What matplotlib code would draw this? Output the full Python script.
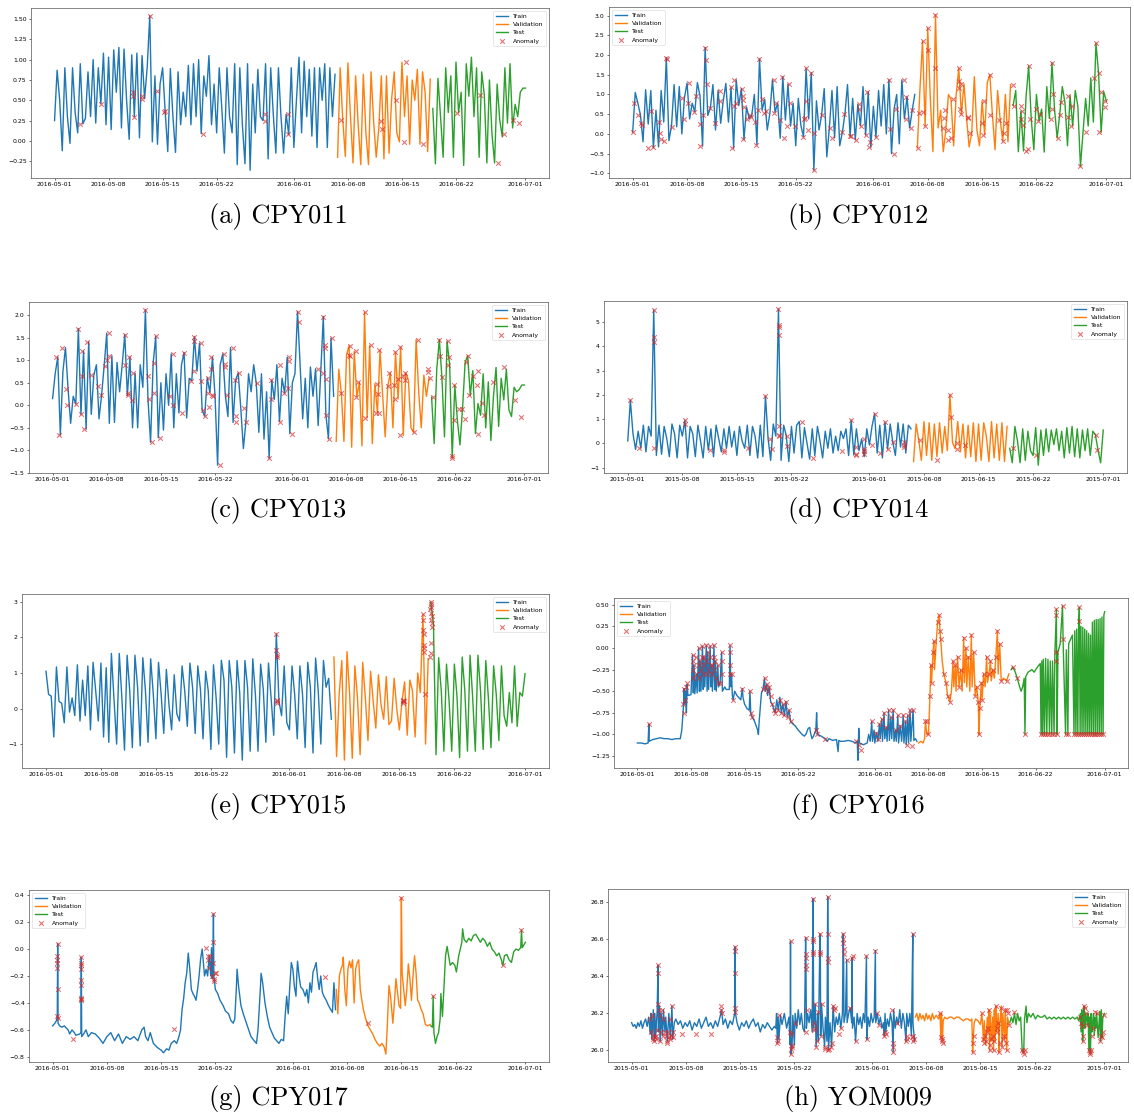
import numpy as np
import pandas as pd
import matplotlib
matplotlib.use("Agg")
import matplotlib.pyplot as plt
import matplotlib.dates as mdates

# CONFIG
SPLIT = (36.6, 48.8)      # train | validation | test boundaries (days from start)
STEP = 1 / 3              # uniform series below: one sample every 8 hours

# ---------------- CPY011 (uniform, 3 samples/day) ----------------
cpy011 = [
    0.25, 0.87, 0.5,  -0.12, 0.9, 0.3,  -0.03, 0.9, 0.35,  0.1, 0.95, 0.21,  0.28, 0.85, 0.3,
    1.0, 0.22, 0.9,  0.46, 1.08, 0.2,  1.03, 0.14, 1.12,  0.6, 1.15, 0.16,  1.13, 0.5, 0.02,
    1.06, 0.3, 1.08,  0.04, 1.05, 0.52,  0.9, 1.54, -0.01,  0.8, -0.04, 0.7,  0.9, 0.36, -0.13,
    0.89, 0.3, -0.14,  0.85, 0.2, 0.6,  0.3, 0.93, 0.2,  0.95, 0.3, 1.0,  0.09, 0.8, 0.55,
    1.05, 0.2, 0.7,  0.1, 0.9, 0.4,  -0.15, 0.9, 0.3,  0.1, 0.95, -0.29,  0.9, 0.2, -0.28,
    0.95, -0.36, 0.7,  0.1, 0.88, 0.3,  0.25, 0.95, -0.22,  0.9, 0.33, -0.15,  0.9, 0.3, -0.15,
    0.33, 0.08, 0.9,  -0.08, 0.5, 1.03,  0.1, 0.98, 0.3,  0.88, 0.06, 0.9,  -0.08, 0.9, 0.5,
    0.95, -0.08, 0.9,  0.3, 0.82, -0.2,  0.9, 0.26, -0.19,  0.96, 0.3, -0.27,  0.8, 0.2, -0.29,
    0.82, 0.1, -0.29,  0.85, 0.24, -0.2,  0.15, 0.8, -0.22,  0.8, -0.15, 0.52,  0.85, 0.1, -0.01,
    0.97, 0.3, 0.8,  -0.04, 0.75, 0.5,  0.88, -0.04, 0.85,  0.6, -0.13, 0.76,  0.4, -0.28, 0.77,
    0.3, -0.2, 0.9,  0.35, 0.8, -0.2,  0.97, 0.35, 0.6,  -0.3, 0.95, 0.55,  1.03, 0.3, 0.9,
    -0.2, 0.85, 0.57,  -0.27, 0.75, 0.08,  -0.27, 0.7, 0.26,  0.05, 0.9, 0.22,  0.95, 0.16, 0.45,
    0.3, 0.6, 0.65,  0.65,
]
cpy011_anom = [(3.28, 0.21), (6.05, 0.46), (10.12, 0.6), (10.21, 0.55), (10.3, 0.3), (11.28, 0.52),
               (11.37, 0.55), (12.33, 1.54), (13.31, 0.61), (14.23, 0.36), (14.32, 0.37), (19.27, 0.09),
               (27.26, 0.33), (27.26, 0.25), (30.18, 0.33), (30.18, 0.08), (37.1, 0.26), (42.33, 0.24),
               (42.42, 0.15), (44.27, 0.51), (45.24, -0.01), (45.52, 0.97), (47.74, -0.04), (52.13, 0.35),
               (55.13, 0.57), (57.44, -0.27), (58.27, 0.08), (59.38, 0.26), (60.21, 0.22)]

# ---------------- CPY012 ----------------
cpy012 = [
    0.05, 1.05, 0.78,  0.48, -0.2, 1.12,  0.25, 1.1, -0.35,  0.6, -0.33, 1.1,  0.3, 1.93, -0.17,
    0.2, 1.25, 0.18,  1.2, 0.0, 0.92,  1.29, 0.38, 0.78,  0.56, 1.3, 0.97,  -0.31, 2.19, 0.47,
    0.65, 1.25, 0.1,  1.1, 0.27, 0.84,  1.28, 0.3, 1.18,  -0.36, 1.37, 0.72,  1.15, -0.14, 0.68,
    0.39, 0.47, 1.0,  -0.27, 1.9, 0.6,  0.88, 0.1, 0.52,  1.37, 0.55, 0.78,  -0.11, 1.45, 0.35,
    1.26, 0.2, 0.78,  -0.3, 0.9, 0.21,  -0.07, 1.66, 0.38,  1.55, -0.92, 0.84,  0.1, 0.48, 1.15,
    -0.58, 0.16, 1.1,  -0.1, 1.2, -0.3,  0.04, 0.5, 1.25,  -0.06, 0.9, -0.15,  0.75, 0.21, 1.2,
    -0.03, 1.07, -0.34,  0.7, -0.08, 1.1,  0.2, 1.25, 0.0,  1.37, -0.5, 0.63,  1.0, -0.25, 1.37,
    0.38, 0.94, 0.15,  0.6, 1.0, -0.35,  1.15, 2.35, 0.2,  2.68, 0.9, -0.45,  3.02, 0.15, 0.6,
    -0.45, 0.1, 1.0,  0.88, -0.3, 1.0,  1.66, 0.5, 1.27,  0.4, -0.33, 0.03,  1.45, 0.1, -0.3,
    0.84, -0.02, 1.3,  1.5, 0.47, -0.4,  1.1, 0.35, -0.18,  1.0, -0.2, 1.25,  0.72, 1.1, -0.45,
    0.58, -0.43, 0.95,  1.72, 0.37, -0.4,  1.0, 0.33, 0.63,  -0.46, 1.2, 0.39,  1.8, 0.62, -0.1,
    0.49, 1.2, 0.8,  -0.3, 0.97, 0.2,  1.1, 0.7, -0.82,  0.04, 0.9, 0.2,  1.42, 0.3, 2.3,
    1.55, 0.04, 1.07,  0.83,
]
cpy012_anom = [
    (0.0, 0.05), (0.23, 0.78), (0.69, 0.48), (1.06, 0.28), (1.15, 0.22), (1.94, -0.35), (2.35, 0.59),
    (2.63, -0.33), (3.37, 0.3), (3.46, 0.03), (3.6, -0.13), (4.01, -0.17), (4.33, 1.93), (4.38, 1.9),
    (5.03, 0.18), (6.37, 0.92), (6.55, 0.38), (7.15, 0.78), (7.29, 1.29), (7.89, 0.56), (8.12, 0.97),
    (8.68, 0.25), (8.72, -0.31), (9.0, 0.47), (9.33, 2.19), (9.46, 1.87), (9.51, 1.26), (9.92, 0.65),
    (10.61, 0.27), (11.21, 0.84), (11.26, 1.1), (12.6, 1.18), (12.78, -0.36), (13.01, 1.37),
    (13.11, 0.72), (13.29, 0.78), (14.07, 1.15), (14.17, 0.97), (14.21, 0.86), (14.21, -0.14),
    (14.31, 0.68), (14.67, 0.39), (15.09, 0.47), (15.18, 0.42), (15.78, 0.3), (15.87, -0.27),
    (16.15, 0.6), (16.33, 1.9), (16.61, 0.88), (16.94, 0.52), (17.17, 0.58), (18.14, 1.37),
    (18.23, 0.52), (18.46, 0.78), (19.01, 0.35), (19.2, 1.45), (19.47, -0.11), (19.84, 0.2),
    (20.07, 1.26), (20.3, 0.78), (20.9, 0.21), (21.92, -0.07), (22.06, 0.38), (22.15, 0.4),
    (22.33, 1.66), (22.38, 0.84), (22.61, 0.1), (23.0, 1.55), (23.3, 0.03), (23.33, -0.92),
    (24.41, 0.48), (25.38, 0.16), (25.66, -0.1), (27.0, 0.04), (27.18, 0.5), (27.97, -0.05),
    (28.06, -0.06), (28.7, -0.15), (29.17, 0.63), (29.21, 0.75), (29.4, 0.21), (30.04, -0.03),
    (30.18, 1.07), (30.46, -0.34), (30.6, -0.2), (31.38, -0.08), (32.95, 1.37), (33.13, 0.13),
    (33.69, -0.5), (33.92, 0.63), (34.89, 1.37), (35.16, 0.38), (35.21, 0.94), (35.81, 0.15),
    (35.99, 0.6), (36.78, -0.35), (36.92, 0.52), (37.33, 2.35), (37.38, 0.55), (37.61, 0.2),
    (38.0, 2.68), (38.07, 2.13), (38.9, 1.66), (39.0, 3.02), (39.96, 0.15), (40.1, 0.4),
    (40.24, 0.6), (40.61, 0.1), (40.61, -0.15), (40.98, -0.1), (41.21, 0.88), (42.0, 1.66),
    (42.09, 1.33), (42.09, 1.16), (42.13, 0.63), (42.22, 0.5), (42.32, 1.27), (43.15, 0.4),
    (43.24, 0.42), (43.47, 0.03), (44.99, 0.27), (45.09, -0.02), (45.22, 0.84), (46.01, 1.5),
    (46.01, 0.47), (47.21, 0.35), (47.67, -0.18), (47.76, 0.02), (48.13, 0.27), (49.0, 1.25),
    (49.15, 0.72), (49.98, 0.72), (49.98, 0.38), (50.16, 0.58), (50.21, 0.22), (50.62, -0.43),
    (50.85, -0.37), (51.0, 1.72), (51.22, 0.37), (51.92, 0.63), (52.15, 0.33), (52.52, 0.5),
    (53.9, 0.39), (53.99, 0.62), (54.13, 1.0), (54.0, 1.8), (54.82, -0.1), (55.05, 0.49),
    (55.15, 0.8), (56.07, 0.44), (56.07, 0.97), (56.44, 0.2), (56.53, 0.7), (57.67, -0.82),
    (58.38, 0.04), (59.39, 1.42), (59.67, 2.3), (60.04, 1.55), (60.08, 0.04), (60.27, 1.07),
    (60.82, 0.83), (60.82, 0.68),
]

# ---------------- CPY013 ----------------
cpy013 = [
    0.15, 0.7, 1.07,  -0.66, 0.75, 1.28,  0.37, -0.4, 0.2,  0.03, 1.7, -0.2,  1.2, -0.53, 1.41,
    -0.2, 0.67, 0.9,  -0.3, 0.22, 0.88,  1.6, -0.4, 1.1,  -0.38, 0.95, 0.3,  0.9, 1.57, 0.22,
    1.07, -0.5, 0.71,  -0.5, 0.9, 0.4,  2.12, 0.13, -0.82,  0.93, 1.53, -0.72,  0.5, -0.55, 0.7,
    0.0, 1.14, -0.5,  0.7, -0.17, 0.9,  1.17, -0.28, 0.6,  0.55, 1.52, 0.76,  1.38, -0.11, -0.24,
    0.61, 0.28, 1.07,  0.22, -1.33, 0.9,  1.14, 0.22, -0.25,  1.28, -0.38, 0.56,  0.72, -0.07, -0.96,
    -0.36, 0.7, 0.3,  0.9, 0.49, -0.6,  0.7, -0.75, 0.3,  -1.18, 0.56, 0.13,  0.9, -0.36, 0.6,
    0.27, 1.07, -0.63,  0.5, 0.7, 2.08,  0.9, -0.3, 0.6,  -0.5, 0.85, 0.2,  0.81, -0.45, 0.72,
    1.97, -0.21, -0.74,  1.49, 0.2, -0.8,  0.8, 0.27, -0.8,  1.12, 1.32, -0.93,  1.2, 0.19, 0.51,
    -0.9, 2.06, -0.28,  1.33, -0.85, 0.48,  -0.17, 1.22, 0.24,  -0.7, 0.42, 0.72,  -0.5, 1.18, 0.14,
    1.29, -0.67, 0.72,  0.56, -0.5, -0.6,  1.46, 0.3, -0.5,  0.67, 0.2, 0.6,  0.18, -0.85, 0.8,
    1.46, 0.62, -0.7,  1.42, 0.9, -1.16,  0.44, -0.33, -0.88,  -0.08, 0.95, 1.1,  0.22, 0.77, -0.63,
    0.04, -0.22, 0.7,  -0.5, 0.52, -0.78,  0.2, 0.84, -0.47,  0.6, 0.12, 0.8,  -0.1, -0.25, 0.4,
    0.3, 0.35, 0.45,  0.45,
]
cpy013_anom = [
    (0.41, 1.07), (0.87, -0.66), (1.28, 1.28), (1.74, 0.37), (1.84, 0.0), (2.98, 0.03), (3.3, 1.7),
    (3.63, -0.2), (3.81, 1.2), (3.81, 0.65), (4.08, -0.53), (4.41, 1.41), (4.91, 0.67), (5.87, 0.43),
    (6.24, 0.22), (6.79, 0.88), (7.07, 1.0), (7.3, 1.6), (7.34, 1.1), (9.41, 0.9), (9.41, 1.57),
    (9.73, 0.22), (9.78, 0.28), (9.82, 1.07), (10.33, 0.12), (10.42, 0.71), (12.0, 2.12),
    (12.39, 0.65), (12.44, 0.13), (12.85, -0.82), (13.17, 0.93), (13.17, 0.27), (13.4, 1.53),
    (13.91, -0.72), (15.24, 0.21), (15.51, 0.0), (15.6, 1.14), (16.75, -0.17), (17.03, 1.17),
    (17.9, 0.55), (18.22, 1.52), (18.27, 1.42), (18.27, 0.76), (19.18, 0.55), (19.18, 1.38),
    (19.5, -0.11), (19.73, -0.24), (20.1, 0.61), (20.15, 0.28), (20.19, -0.04), (20.51, 1.07),
    (20.51, 0.8), (20.65, 0.22), (20.74, 0.21), (21.67, -1.33), (22.21, 1.14), (22.26, 0.92),
    (22.26, 0.86), (22.53, 0.22), (23.36, 1.28), (23.63, 0.56), (23.68, -0.24), (23.68, -0.38),
    (24.05, 0.72), (24.69, -0.07), (24.97, -0.36), (26.39, 0.49), (28.0, -1.18), (28.18, 0.56),
    (28.27, 0.13), (29.37, 0.9), (29.42, -0.36), (29.92, 0.27), (30.43, 0.38), (30.52, 1.07),
    (30.52, 0.98), (30.98, -0.63), (31.67, 2.08), (31.9, 1.84), (34.33, 0.81), (34.97, 0.72),
    (35.0, 1.97), (35.2, 1.33), (35.2, 1.27), (35.29, 0.58), (35.29, -0.21), (35.75, -0.74),
    (36.12, 1.49), (37.26, 0.27), (38.32, 1.12), (38.41, 1.1), (38.5, 1.32), (39.24, 1.2),
    (39.28, 0.19), (39.47, 0.51), (40.33, 2.06), (40.39, -0.28), (41.17, 1.33), (41.76, -0.17),
    (41.95, 0.48), (42.08, 0.24), (42.18, -0.17), (42.22, 1.22), (43.37, 0.42), (43.46, 0.72),
    (44.19, 0.45), (44.24, 0.14), (44.29, 1.18), (44.7, 0.59), (44.93, 1.29), (44.97, -0.67),
    (45.34, 0.65), (45.57, 0.72), (45.62, 0.56), (46.67, -0.6), (47.27, 1.46), (48.51, 0.81),
    (48.51, 0.75), (48.83, 0.6), (49.2, 0.18), (50.02, 1.46), (50.07, 1.1), (50.39, 0.62),
    (51.08, 1.42), (51.17, 0.9), (51.22, 1.07), (51.67, -1.12), (51.67, -1.16), (51.9, 0.44),
    (51.95, -0.33), (52.55, -0.08), (52.96, -0.08), (53.28, -0.3), (53.46, 0.95), (53.65, 1.1),
    (53.79, 0.22), (54.29, 0.66), (54.89, 0.45), (54.94, 0.77), (54.94, -0.63), (55.53, 0.04),
    (55.76, -0.22), (56.95, 0.52), (58.42, 0.84), (59.84, 0.12), (60.53, -0.25),
]

# ---------------- CPY014 (2015) ----------------
cpy014 = [
    0.1, 1.78, 0.4,  -0.25, 0.5, -0.2,  0.75, -0.35, 0.7,  0.3, 5.5, -0.5,  0.75, -0.45, 0.7,
    0.2, -0.55, 0.8,  0.4, -0.6, 0.75,  0.3, 0.95, -0.6,  0.7, 0.4, -0.55,  0.75, 0.1, -0.6,
    0.7, -0.28, 0.6,  -0.55, 0.75, 0.2,  -0.35, 0.6, -0.2,  0.7, -0.15, 0.5,  -0.5, 0.7, 0.1,
    -0.2, 0.75, -0.5,  0.7, 0.3, -0.6,  0.75, -0.55, 1.95,  0.2, -0.7, 0.8,  0.3, 5.55, -0.7,
    0.75, 0.32, -0.75,  0.7, -0.4, 0.75,  0.9, -0.6, 0.65,  0.0, -0.65, 0.6,  -0.5, 0.7, 0.1,
    -0.6, 0.5, -0.2,  0.6, -0.4, 0.3,  -0.3, 0.5, 0.2,  0.6, -0.5, 0.95,  -0.48, 0.6, -0.3,
    0.18, -0.55, 0.6,  -0.07, 0.7, 1.22,  -0.4, 0.75, -0.6,  0.87, -0.23, 0.8,  0.05, -0.5, 0.85,
    -0.15, 0.8, -0.4,  0.75, 0.6, -0.75,  0.8, 0.13, -0.7,  0.9, -0.5, 0.85,  -0.7, 0.8, -0.55,
    0.85, -0.4, 0.7,  -0.3, 2.0, 0.03,  -0.22, 0.9, -0.35,  0.8, -0.6, 0.75,  -0.55, 0.85, -0.75,
    0.8, -0.7, 0.85,  0.3, -0.75, 0.9,  -0.6, 0.8, -0.7,  0.85, -0.75, 0.7,  -0.2, -0.8, 0.7,
    0.1, -0.8, 0.6,  -0.7, 0.5, -0.3,  -0.5, 0.65, -0.9,  0.55, -0.5, 0.6,  -0.35, 0.55, -0.05,
    0.6, -0.3, 0.5,  -0.6, 0.65, -0.4,  0.7, -0.55, 0.6,  -0.6, 0.55, -0.3,  0.6, -0.5, 0.5,
    0.35, -0.28, -0.8,  0.55,
]
cpy014_anom = [
    (0.33, 1.78), (1.5, -0.2), (3.33, 5.5), (3.35, 4.4), (3.35, 4.2), (3.4, -0.2), (7.33, 0.95),
    (7.4, 0.8), (10.57, -0.28), (12.39, -0.28), (12.39, -0.35), (15.44, -0.18), (17.67, 1.95),
    (18.3, 0.2), (18.45, -0.22), (19.33, 5.55), (19.35, 4.9), (19.35, 4.8), (19.35, 4.45),
    (19.36, 0.72), (19.36, 0.35), (19.36, 0.3), (20.46, 0.32), (20.46, -0.12), (22.41, 0.9),
    (23.78, -0.6), (27.43, -0.3), (28.67, 0.95), (29.29, -0.15), (29.29, -0.45), (29.29, -0.48),
    (30.25, 0.18), (30.25, -0.22), (30.25, -0.3), (30.25, -0.42), (31.39, -0.07), (31.67, 1.22),
    (32.3, -0.4), (33.0, 0.87), (33.39, -0.23), (34.03, 0.05), (35.4, 0.05), (35.4, -0.05),
    (35.4, -0.15), (37.54, 0.13), (39.73, -0.7), (41.33, 2.0), (41.45, 1.07), (42.28, 0.03),
    (42.28, -0.22), (43.28, -0.08), (49.43, -0.2), (52.39, -0.47), (60.09, 0.35), (60.23, -0.28),
]

# ---------------- CPY015 ----------------
cpy015 = [
    1.05, 0.4, 0.35,  -0.8, 1.17, 0.2,  0.15, -0.4, 1.17,  -0.1, 0.3, -0.2,  1.23, -0.35, 0.8,
    -0.2, 1.2, -0.6,  1.3, 0.5, -0.35,  1.28, -0.8, 1.15,  -0.95, 1.55, 0.25,  -1.0, 1.55, 0.3,
    -1.17, 1.5, 0.5,  -1.1, 1.5, 0.6,  -1.05, 1.43, 0.5,  -0.95, 1.4, 0.4,  -0.85, 1.3, 0.4,
    -0.7, 1.1, 0.1,  -0.6, 0.95, -0.15,  -0.35, 1.2, 0.5,  -0.5, 1.28, 0.6,  -0.7, 1.2, 0.55,
    -0.85, 1.05, 0.5,  -1.15, 1.23, 0.3,  -1.0, 1.36, 0.8,  -1.37, 1.35, 0.6,  -1.25, 1.35, 0.45,
    -1.45, 1.35, 0.6,  -1.2, 1.4, 0.4,  -1.2, 1.25, 0.55,  -0.95, 1.28, 0.3,  -0.75, 2.1, 0.2,
    -0.2, 1.2, -0.4,  -0.6, 1.2, 0.4,  -0.85, 1.2, 0.4,  -1.1, 1.3, 0.6,  -1.25, 1.42, 0.5,
    -1.0, 1.35, 0.6,  0.85, -0.3, 1.45,  -1.35, 0.4, 1.35,  -1.45, 1.6, 0.4,  -1.4, 1.2, 0.3,
    -1.3, 1.3, 0.3,  -0.9, 1.05, 0.2,  -0.55, 0.95, 0.1,  -0.3, 0.9, -0.45,  -0.35, 0.85, 0.0,
    -0.6, 0.2, 0.75,  -0.75, 0.8, 0.5,  -0.8, 1.0, 0.45,  2.65, -1.0, 1.4,  3.0, 2.4, -1.3,
    1.43, 0.5, -1.2,  1.25, 0.2, -1.2,  1.25, 0.35, -1.38,  1.45, 0.5, -1.2,  1.5, 0.3, -1.2,
    1.5, 0.5, -1.15,  1.35, 0.3, -1.1,  1.2, 0.4, -0.9,  1.2, -0.2, -0.5,  0.45, -0.4, 1.2,
    -0.5, 0.45, 0.35,  0.98,
]
cpy015_anom = [
    (29.33, 2.1), (29.35, 1.65), (29.38, 1.5), (29.4, 1.45), (29.42, 0.25), (29.45, 0.2),
    (29.4, 0.15), (45.4, 0.25), (45.45, 0.2), (45.5, 0.15), (45.55, 0.22), (48.0, 2.65), (48.02, 2.5),
    (48.05, 2.2), (48.08, 2.1), (48.1, 1.8), (48.12, 1.7), (48.15, 1.6), (48.2, 0.42), (49.0, 3.0),
    (49.02, 2.95), (49.03, 2.85), (49.05, 2.7), (49.07, 2.5), (49.1, 2.4), (49.13, 2.3),
    (48.95, 1.45), (49.05, 1.85), (49.08, 1.55), (48.9, 2.8), (49.15, 2.6),
]

# ---------------- CPY016 (day, value) ----------------
cpy016 = [
    (0.0, -1.1), (0.5, -1.1), (1.0, -1.11), (1.4, -1.1), (1.5, -0.88), (1.55, -1.08), (2.0, -1.06),
    (2.5, -1.05), (3.0, -1.04), (3.5, -1.05), (4.0, -1.05), (4.5, -1.06), (5.0, -1.05), (5.6, -1.05),
    (5.8, -0.95), (6.0, -0.7), (6.1, -0.47), (6.2, -0.65), (6.3, -0.5), (6.4, -0.75), (6.5, -0.42),
    (6.6, -0.55), (7.0, -0.54), (7.2, -0.08), (7.3, -0.52), (7.4, -0.2), (7.5, -0.53), (7.7, -0.3),
    (7.8, -0.52), (8.0, 0.0), (8.1, -0.5), (8.2, -0.15), (8.3, -0.5), (8.5, 0.02), (8.6, -0.48),
    (8.7, -0.1), (8.8, -0.45), (9.0, 0.03), (9.1, -0.5), (9.2, -0.05), (9.3, -0.48), (9.5, 0.02),
    (9.6, -0.45), (9.7, -0.2), (9.8, -0.5), (10.0, 0.03), (10.1, -0.48), (10.2, -0.15), (10.3, -0.5),
    (10.5, -0.2), (10.6, -0.45), (10.8, -0.4), (11.0, -0.05), (11.1, -0.5), (11.4, -0.45),
    (11.6, -0.48), (12.0, -0.48), (12.1, 0.03), (12.2, -0.45), (12.3, -0.3), (12.4, -0.55),
    (12.5, -0.6), (12.7, -0.5), (13.0, -0.55), (13.5, -0.6), (13.7, -0.47), (13.8, -0.58),
    (14.0, -0.65), (14.3, -0.7), (14.6, -0.72), (14.7, -0.5), (14.8, -0.75), (15.0, -0.8),
    (15.3, -0.85), (15.7, -0.95), (15.8, -1.0), (15.9, -0.85), (16.2, -0.52), (16.4, -0.48),
    (16.6, -0.35), (16.7, -0.5), (16.9, -0.42), (17.0, -0.55), (17.2, -0.45), (17.4, -0.62),
    (17.6, -0.65), (17.8, -0.7), (18.0, -0.75), (18.2, -0.6), (18.4, -0.72), (18.6, -0.57),
    (18.8, -0.75), (19.0, -0.65), (19.2, -0.78), (19.4, -0.62), (19.6, -0.8), (19.8, -0.72),
    (20.0, -0.85), (20.3, -0.88), (20.6, -0.9), (21.0, -0.95), (21.5, -1.0), (21.8, -1.02),
    (22.0, -1.0), (22.3, -0.93), (22.5, -0.92), (22.6, -0.98), (22.8, -1.05), (23.0, -1.02),
    (23.3, -0.95), (23.4, -0.75), (23.5, -1.0), (24.0, -1.02), (24.5, -1.05), (24.8, -1.08),
    (25.0, -1.05), (25.5, -1.07), (26.0, -1.06), (26.2, -1.2), (26.3, -1.07), (26.5, -1.08),
    (27.0, -1.08), (27.5, -1.07), (28.0, -1.08), (28.5, -1.1), (28.7, -1.08), (28.8, -1.3),
    (28.9, -0.93), (29.0, -1.1), (29.5, -1.12), (30.0, -1.1), (30.2, -1.0), (30.4, -1.08),
    (30.6, -0.85), (30.7, -1.08), (30.9, -0.95), (31.0, -1.1), (31.2, -0.98), (31.4, -1.08),
    (31.6, -0.88), (31.7, -1.05), (31.9, -0.82), (32.0, -1.08), (32.2, -0.75), (32.3, -1.05),
    (32.5, -0.92), (32.6, -1.08), (32.8, -0.72), (32.9, -1.07), (33.1, -0.8), (33.2, -1.05),
    (33.4, -0.72), (33.5, -1.08), (33.7, -0.95), (33.8, -1.08), (34.0, -0.78), (34.1, -1.1),
    (34.3, -0.9), (34.5, -1.08), (34.7, -0.78), (34.8, -1.1), (35.0, -0.85), (35.1, -1.12),
    (35.3, -0.78), (35.4, -1.1), (35.6, -0.72), (35.7, -1.08), (36.0, -0.72), (36.1, -1.07),
    (36.3, -1.05), (36.5, -1.08),
    (36.7, -1.1), (37.0, -1.08), (37.3, -1.1), (37.5, -1.05), (37.6, -0.85), (37.8, -1.0),
    (38.0, -1.0), (38.2, -0.55), (38.3, -0.2), (38.4, -0.4), (38.6, -0.05), (38.7, 0.08),
    (38.8, -0.25), (39.0, 0.05), (39.2, 0.3), (39.4, 0.38), (39.5, 0.2), (39.6, 0.1), (39.8, -0.15),
    (40.0, -0.3), (40.3, -0.4), (40.5, -0.55), (40.8, -0.62), (41.0, -0.5), (41.2, -0.15),
    (41.3, -0.45), (41.5, -0.2), (41.6, -0.5), (41.8, -0.1), (42.0, -0.45), (42.2, -0.25),
    (42.4, -0.5), (42.6, 0.12), (42.7, -0.4), (42.9, 0.0), (43.0, -0.45), (43.2, -0.1), (43.4, -0.5),
    (43.6, 0.15), (43.7, -0.45), (43.9, -0.05), (44.1, -0.55), (44.3, -0.45), (44.5, -0.62),
    (44.6, -1.0), (44.7, -0.7), (44.9, -0.4), (45.0, -0.6), (45.2, -0.3), (45.4, -0.45), (45.6, -0.1),
    (45.7, -0.4), (45.9, -0.3), (46.1, -0.15), (46.2, -0.38), (46.4, -0.25), (46.6, -0.35),
    (46.8, -0.1), (47.0, 0.2), (47.1, -0.3), (47.3, 0.05), (47.5, -0.38), (47.8, -0.35),
    (48.2, -0.38), (48.5, -0.3),
    (48.8, -0.25), (49.0, -0.22), (49.3, -0.27), (49.6, -0.35), (49.9, -0.45), (50.1, -0.5),
    (50.3, -0.45), (50.5, -0.35), (50.6, -1.0), (50.7, -0.33), (51.0, -0.28), (51.5, -0.25),
    (51.8, -0.28), (52.0, -0.25), (52.4, -0.2), (52.6, -0.18), (52.7, -1.0), (52.8, -0.15),
    (52.9, -1.0), (53.0, -0.13), (53.15, -1.0), (53.3, -0.12), (53.45, -1.0), (53.6, -0.13),
    (53.8, -1.0), (53.9, -0.15), (54.1, -1.0), (54.2, -0.15), (54.4, -1.0), (54.5, -0.08),
    (54.7, 0.45), (54.8, -1.0), (54.9, -0.05), (55.2, 0.05), (55.5, 0.49), (55.6, 0.0), (55.9, -1.0),
    (56.0, -0.02), (56.2, -1.0), (56.3, 0.05), (56.8, 0.15), (57.0, -1.0), (57.1, 0.2), (57.25, -1.0),
    (57.35, 0.22), (57.5, -1.0), (57.6, 0.25), (57.7, 0.47), (57.8, -1.0), (57.9, 0.25),
    (58.05, -1.0), (58.15, 0.24), (58.3, -1.0), (58.4, 0.22), (58.55, -1.0), (58.65, 0.2),
    (58.8, -1.0), (58.9, 0.17), (59.05, -1.0), (59.15, 0.15), (59.3, -1.0), (59.4, 0.3),
    (59.55, -1.0), (59.65, 0.32), (59.8, -1.0), (59.9, 0.33), (60.05, -1.0), (60.15, 0.33),
    (60.3, -1.0), (60.4, 0.34), (60.55, -1.0), (60.65, 0.36), (60.8, -1.0), (60.9, 0.38),
    (61.0, 0.42),
]
cpy016_anom = [
    (1.5, -0.88), (6.0, -0.65), (6.05, -0.75), (6.1, -0.47), (6.2, -0.6), (6.4, -0.45), (6.5, -0.4),
    (7.2, -0.08), (7.2, -0.15), (7.2, -0.25), (7.25, -0.35), (7.4, -0.2), (7.7, -0.3), (7.7, -0.1),
    (8.0, 0.0), (8.0, -0.2), (8.05, -0.35), (8.2, -0.15), (8.3, -0.25), (8.5, 0.02), (8.5, -0.1),
    (8.55, -0.3), (8.7, -0.1), (8.75, -0.2), (9.0, 0.03), (9.0, -0.15), (9.05, -0.3), (9.2, -0.05),
    (9.25, -0.25), (9.5, 0.02), (9.5, -0.1), (9.55, -0.2), (9.7, -0.2), (9.75, -0.3), (10.0, 0.03),
    (10.0, -0.1), (10.05, -0.25), (10.2, -0.15), (10.25, -0.35), (10.5, -0.2), (10.5, -0.4),
    (10.8, -0.4), (11.0, -0.05), (11.0, -0.15), (11.05, -0.3), (12.1, 0.03), (12.1, -0.05),
    (12.15, -0.2), (12.15, -0.3), (12.3, -0.3), (12.5, -0.6), (13.7, -0.47), (14.7, -0.5),
    (14.8, -0.75), (15.0, -0.8), (16.4, -0.48), (16.6, -0.35), (16.7, -0.45), (16.9, -0.42),
    (17.0, -0.5), (17.2, -0.45), (17.4, -0.55), (17.6, -0.65), (17.8, -0.72), (18.0, -0.75),
    (18.4, -0.72), (18.6, -0.6), (18.8, -0.75), (19.0, -0.65), (19.2, -0.78), (19.4, -0.62),
    (19.6, -0.8), (19.8, -0.72), (20.0, -0.85), (23.3, -0.95), (23.5, -1.0), (24.5, -1.05),
    (28.6, -1.08), (28.9, -1.12), (29.2, -1.18), (30.6, -0.85), (31.2, -0.98), (31.4, -1.05),
    (31.6, -0.88), (31.9, -0.82), (32.2, -0.75), (32.5, -0.92), (32.8, -0.72), (33.1, -0.8),
    (33.4, -0.72), (33.7, -0.95), (34.0, -0.78), (34.3, -0.9), (34.7, -0.78), (35.0, -0.85),
    (35.3, -0.78), (35.6, -0.72), (36.0, -0.72), (35.2, -1.12), (35.8, -1.13),
    (37.6, -0.85), (37.8, -0.85), (38.0, -1.0), (38.2, -0.55), (38.3, -0.2), (38.4, -0.4),
    (38.6, -0.05), (38.7, 0.08), (39.2, 0.3), (39.4, 0.38), (39.5, 0.2), (39.6, 0.1), (40.0, -0.3),
    (40.3, -0.4), (40.5, -0.55), (40.8, -0.62), (41.2, -0.15), (41.5, -0.2), (41.8, -0.1),
    (42.0, -0.45), (42.2, -0.25), (42.6, 0.12), (42.9, 0.0), (43.2, -0.1), (43.6, 0.15),
    (43.9, -0.05), (44.1, -0.55), (44.3, -0.45), (44.5, -0.62), (44.7, -0.7), (44.9, -0.4),
    (45.0, -0.6), (44.6, -1.0), (45.2, -0.3), (45.6, -0.1), (45.9, -0.3), (46.1, -0.15),
    (46.4, -0.25), (46.8, -0.1), (47.0, 0.2), (47.3, 0.05), (47.5, -0.38), (48.2, -0.38),
    (49.0, -0.22), (49.6, -0.35), (50.6, -1.0), (52.7, -1.0), (52.9, -1.0), (53.15, -1.0),
    (53.45, -1.0), (53.8, -1.0), (54.1, -1.0), (54.4, -1.0), (54.8, -1.0), (55.9, -1.0),
    (56.2, -1.0), (57.0, -1.0), (57.25, -1.0), (57.5, -1.0), (57.8, -1.0), (58.05, -1.0),
    (58.3, -1.0), (58.55, -1.0), (58.8, -1.0), (59.05, -1.0), (59.3, -1.0), (59.55, -1.0),
    (59.8, -1.0), (60.05, -1.0), (60.3, -1.0), (60.55, -1.0), (60.8, -1.0), (54.7, 0.45),
    (54.7, 0.38), (55.5, 0.49), (55.6, 0.11), (57.7, 0.47), (57.7, 0.31), (54.6, -0.05),
    (54.6, -0.15),
]

# ---------------- CPY017 (day, value) ----------------
cpy017 = [
    (0.0, -0.57), (0.3, -0.55), (0.5, -0.53), (0.6, -0.5), (0.65, 0.04), (0.7, -0.55), (0.9, -0.57),
    (1.2, -0.58), (1.5, -0.57), (2.0, -0.6), (2.2, -0.63), (2.5, -0.6), (2.8, -0.62), (3.0, -0.64),
    (3.5, -0.63), (3.65, -0.62), (3.7, -0.06), (3.75, -0.65), (4.0, -0.63), (4.3, -0.6), (4.6, -0.65),
    (5.0, -0.62), (5.5, -0.63), (6.0, -0.66), (6.5, -0.7), (7.0, -0.65), (7.5, -0.62), (8.0, -0.68),
    (8.5, -0.63), (9.0, -0.7), (9.5, -0.65), (10.0, -0.67), (10.5, -0.65), (11.0, -0.68),
    (11.5, -0.6), (11.8, -0.58), (12.0, -0.65), (12.3, -0.68), (12.6, -0.62), (13.0, -0.7),
    (13.5, -0.73), (14.0, -0.75), (14.3, -0.77), (14.7, -0.74), (15.0, -0.75), (15.3, -0.7),
    (15.7, -0.68), (16.0, -0.7), (16.3, -0.65), (16.5, -0.6), (16.7, -0.45), (16.9, -0.37),
    (17.1, -0.25), (17.3, -0.18), (17.5, -0.03), (17.7, -0.15), (17.9, -0.3), (18.1, -0.33),
    (18.3, -0.35), (18.5, -0.38), (18.7, -0.3), (18.9, -0.2), (19.1, -0.07), (19.3, 0.0),
    (19.45, -0.1), (19.6, -0.2), (19.8, -0.15), (20.0, -0.2), (20.2, -0.05), (20.4, -0.2),
    (20.5, 0.01), (20.6, -0.22), (20.7, -0.05), (20.75, 0.26), (20.8, -0.2), (20.9, -0.25),
    (21.0, -0.3), (21.3, -0.33), (21.6, -0.38), (22.0, -0.42), (22.3, -0.46), (22.7, -0.48),
    (23.0, -0.53), (23.3, -0.55), (23.5, -0.52), (23.7, -0.3), (23.8, -0.15), (24.0, -0.28),
    (24.3, -0.42), (24.6, -0.48), (25.0, -0.55), (25.3, -0.6), (25.6, -0.65), (26.0, -0.68),
    (26.3, -0.7), (26.5, -0.6), (26.8, -0.3), (26.9, -0.18), (27.1, -0.25), (27.4, -0.4),
    (27.7, -0.5), (28.0, -0.58), (28.3, -0.62), (28.6, -0.66), (28.9, -0.68), (29.2, -0.7),
    (29.5, -0.67), (29.8, -0.68), (30.0, -0.5), (30.2, -0.35), (30.4, -0.48), (30.6, -0.28),
    (30.8, -0.1), (31.0, -0.15), (31.2, -0.28), (31.4, -0.35), (31.5, -0.2), (31.6, -0.09),
    (31.8, -0.2), (32.0, -0.28), (32.3, -0.3), (32.6, -0.35), (32.8, -0.3), (33.0, -0.4),
    (33.2, -0.25), (33.4, -0.32), (33.6, -0.17), (33.8, -0.14), (34.0, -0.1), (34.2, -0.22),
    (34.4, -0.3), (34.6, -0.2), (34.8, -0.32), (35.0, -0.35), (35.3, -0.38), (35.6, -0.42),
    (35.9, -0.45), (36.1, -0.47), (36.3, -0.25), (36.5, -0.45),
    (36.6, -0.3), (36.8, -0.48), (37.0, -0.2), (37.2, -0.15), (37.4, -0.12), (37.5, -0.06),
    (37.7, -0.3), (37.9, -0.42), (38.1, -0.15), (38.3, -0.09), (38.5, -0.14), (38.7, -0.08),
    (38.9, -0.4), (39.1, -0.15), (39.3, -0.1), (39.5, -0.08), (39.7, -0.3), (39.9, -0.38),
    (40.1, -0.45), (40.4, -0.52), (40.7, -0.57), (41.0, -0.6), (41.3, -0.63), (41.6, -0.67),
    (41.9, -0.7), (42.2, -0.72), (42.5, -0.7), (42.8, -0.73), (43.0, -0.78), (43.2, -0.55),
    (43.4, -0.27), (43.6, -0.35), (43.9, -0.55), (44.1, -0.4), (44.3, -0.22), (44.5, -0.32),
    (44.7, -0.42), (44.9, -0.44), (45.0, 0.38), (45.1, -0.18), (45.3, -0.3), (45.5, -0.42),
    (45.7, -0.3), (45.9, -0.11), (46.1, -0.22), (46.3, -0.38), (46.5, -0.2), (46.7, -0.05),
    (46.9, -0.18), (47.1, -0.38), (47.3, -0.4), (47.5, -0.44), (47.8, -0.48), (48.1, -0.56),
    (48.4, -0.57), (48.7, -0.56),
    (48.8, -0.57), (49.0, -0.58), (49.1, -0.35), (49.2, -0.62), (49.4, -0.7), (49.6, -0.65),
    (49.8, -0.62), (50.0, -0.52), (50.1, -0.33), (50.3, -0.5), (50.5, -0.28), (50.7, -0.05),
    (50.9, 0.02), (51.1, -0.05), (51.3, -0.12), (51.6, -0.1), (51.9, -0.12), (52.1, -0.17),
    (52.4, -0.05), (52.6, 0.0), (52.8, 0.05), (52.9, 0.15), (53.1, 0.07), (53.4, 0.05), (53.7, 0.08),
    (54.0, 0.06), (54.3, 0.1), (54.6, 0.11), (54.9, 0.08), (55.2, 0.05), (55.5, 0.08), (55.8, 0.06),
    (56.1, 0.02), (56.4, 0.05), (56.7, 0.0), (57.0, -0.02), (57.3, -0.05), (57.6, -0.03),
    (57.9, -0.08), (58.1, -0.12), (58.3, -0.05), (58.6, -0.04), (58.9, -0.08), (59.2, -0.1),
    (59.5, -0.02), (59.8, 0.0), (60.1, -0.01), (60.4, 0.01), (60.5, 0.14), (60.6, 0.01),
    (61.0, 0.05),
]
cpy017_anom = [
    (0.62, -0.05), (0.62, -0.08), (0.62, -0.1), (0.62, -0.14), (0.64, -0.3), (0.6, -0.5),
    (0.65, -0.51), (0.65, 0.04), (2.6, -0.67), (3.7, -0.06), (3.7, -0.1), (3.7, -0.12), (3.7, -0.15),
    (3.7, -0.23), (3.72, -0.27), (3.7, -0.36), (3.7, -0.37), (3.7, -0.38), (15.7, -0.59),
    (19.8, 0.01), (20.0, -0.05), (20.1, -0.08), (20.2, -0.14), (20.3, -0.05), (20.5, -0.2),
    (20.7, -0.1), (20.75, 0.26), (20.75, 0.05), (20.8, -0.22), (20.8, -0.24), (20.9, -0.18),
    (21.1, -0.18), (35.2, -0.21), (40.7, -0.55), (45.0, 0.38), (49.1, -0.35), (58.1, -0.12),
    (60.5, 0.14),
]

# ---------------- YOM009 (2015, day, value) ----------------
yom009 = [
    (0.0, 26.15), (0.2, 26.13), (0.4, 26.14), (0.6, 26.12), (0.8, 26.15), (1.0, 26.13), (1.2, 26.16),
    (1.4, 26.12), (1.6, 26.15), (1.8, 26.17), (2.0, 26.13), (2.2, 26.18), (2.4, 26.09), (2.5, 26.2),
    (2.6, 26.06), (2.8, 26.22), (2.9, 26.05), (3.0, 26.2), (3.1, 26.07), (3.3, 26.22), (3.4, 26.46),
    (3.45, 26.1), (3.6, 26.24), (3.7, 26.05), (3.8, 26.2), (4.0, 26.08), (4.1, 26.22), (4.3, 26.1),
    (4.4, 26.18), (4.6, 26.05), (4.8, 26.2), (5.0, 26.07), (5.2, 26.24), (5.3, 26.06), (5.5, 26.15),
    (5.7, 26.17), (6.0, 26.14), (6.3, 26.16), (6.6, 26.12), (6.9, 26.15), (7.2, 26.13), (7.5, 26.16),
    (7.8, 26.11), (8.1, 26.15), (8.4, 26.13), (8.7, 26.17), (9.0, 26.12), (9.3, 26.15), (9.6, 26.18),
    (9.9, 26.13), (10.2, 26.15), (10.5, 26.12), (10.8, 26.16), (11.1, 26.13), (11.4, 26.18),
    (11.6, 26.22), (11.8, 26.14), (12.1, 26.17), (12.4, 26.12), (12.7, 26.16), (13.0, 26.14),
    (13.3, 26.2), (13.35, 26.56), (13.4, 26.2), (13.6, 26.15), (13.9, 26.11), (14.2, 26.15),
    (14.5, 26.13), (14.8, 26.16), (15.1, 26.12), (15.4, 26.15), (15.7, 26.17), (16.0, 26.13),
    (16.3, 26.15), (16.6, 26.1), (16.9, 26.14), (17.2, 26.12), (17.5, 26.15), (17.8, 26.13),
    (18.1, 26.11), (18.4, 26.13), (18.6, 26.12), (18.7, 26.2), (18.8, 26.04), (18.9, 26.18),
    (19.0, 26.06), (19.2, 26.19), (19.4, 26.14), (19.7, 26.2), (20.0, 26.12), (20.3, 26.18),
    (20.45, 26.03), (20.5, 26.59), (20.55, 25.98), (20.7, 26.02), (20.8, 26.19), (21.0, 26.03),
    (21.1, 26.2), (21.3, 26.12), (21.5, 26.22), (21.7, 26.14), (21.9, 26.2), (22.1, 26.12),
    (22.3, 26.1), (22.45, 26.61), (22.5, 26.44), (22.55, 26.12), (22.7, 26.2), (22.9, 26.15),
    (23.1, 26.22), (23.3, 26.1), (23.4, 26.82), (23.45, 26.52), (23.5, 26.12), (23.7, 26.25),
    (23.8, 26.02), (24.0, 26.2), (24.1, 26.05), (24.3, 26.63), (24.35, 26.52), (24.4, 26.08),
    (24.5, 26.25), (24.7, 26.12), (24.9, 26.02), (25.0, 26.18), (25.2, 26.05), (25.3, 26.83),
    (25.35, 26.48), (25.4, 26.0), (25.6, 26.15), (25.8, 26.02), (26.0, 26.24), (26.2, 26.1),
    (26.4, 26.18), (26.6, 26.14), (26.8, 26.2), (27.0, 26.12), (27.2, 26.2), (27.3, 26.63),
    (27.35, 26.52), (27.4, 26.15), (27.6, 26.2), (27.75, 26.49), (27.8, 26.15), (28.0, 26.2),
    (28.2, 26.23), (28.4, 26.15), (28.45, 26.5), (28.5, 26.12), (28.7, 26.18), (28.9, 26.05),
    (29.1, 26.2), (29.3, 26.14), (29.5, 26.18), (29.7, 26.12), (29.9, 26.2), (30.1, 26.15),
    (30.3, 26.51), (30.35, 26.06), (30.5, 26.18), (30.7, 26.13), (30.9, 26.2), (31.1, 26.15),
    (31.3, 26.18), (31.45, 26.54), (31.5, 26.15), (31.7, 26.2), (31.9, 26.14), (32.1, 26.18),
    (32.3, 26.12), (32.5, 26.15), (32.6, 26.08), (32.7, 26.2), (32.8, 26.1), (33.0, 26.17),
    (33.2, 26.13), (33.4, 26.2), (33.6, 26.15), (33.75, 25.99), (33.8, 26.22), (34.0, 26.12),
    (34.2, 26.18), (34.4, 26.14), (34.6, 26.22), (34.8, 26.12), (35.0, 26.2), (35.2, 26.15),
    (35.4, 26.05), (35.5, 26.2), (35.7, 26.13), (35.9, 26.2), (36.1, 26.08), (36.28, 26.63),
    (36.3, 26.15), (36.5, 26.05),
    (36.6, 26.18), (36.8, 26.2), (37.0, 26.16), (37.2, 26.2), (37.4, 26.17), (37.6, 26.19),
    (37.8, 26.16), (38.0, 26.2), (38.2, 26.17), (38.4, 26.19), (38.6, 26.16), (38.8, 26.2),
    (39.0, 26.17), (39.3, 26.19), (39.6, 26.17), (39.8, 26.2), (39.9, 26.07), (40.0, 26.2),
    (40.1, 26.05), (40.2, 26.16), (40.4, 26.18), (40.7, 26.17), (41.0, 26.18), (41.3, 26.18),
    (41.6, 26.17), (41.9, 26.18), (42.2, 26.18), (42.5, 26.17), (42.8, 26.16), (43.1, 26.17),
    (43.4, 26.17), (43.7, 26.16), (43.9, 26.17), (44.0, 25.99), (44.1, 26.08), (44.2, 26.15),
    (44.4, 26.17), (44.7, 26.16), (45.0, 26.14), (45.2, 26.2), (45.4, 26.05), (45.5, 26.16),
    (45.7, 26.03), (45.9, 26.18), (46.0, 26.1), (46.1, 26.22), (46.2, 26.0), (46.3, 26.2),
    (46.4, 26.05), (46.6, 26.18), (46.7, 26.0), (46.8, 26.22), (46.9, 26.05), (47.0, 26.24),
    (47.1, 26.1), (47.3, 26.2), (47.4, 25.99), (47.5, 26.14), (47.7, 26.24), (47.8, 26.02),
    (47.9, 26.2), (48.1, 26.06), (48.2, 26.22), (48.4, 26.0), (48.5, 26.18), (48.7, 26.14),
    (48.8, 26.15), (49.0, 26.18), (49.2, 26.15), (49.4, 26.2), (49.6, 26.14), (49.8, 26.2),
    (50.0, 26.16), (50.2, 26.18), (50.4, 26.0), (50.5, 25.99), (50.6, 26.0), (50.7, 26.17),
    (50.9, 26.24), (51.0, 26.15), (51.2, 26.2), (51.5, 26.18), (51.8, 26.2), (52.1, 26.17),
    (52.4, 26.19), (52.7, 26.18), (53.0, 26.18), (53.3, 26.19), (53.6, 26.17), (53.9, 26.18),
    (54.2, 26.17), (54.5, 26.18), (54.8, 26.17), (55.1, 26.18), (55.4, 26.17), (55.7, 26.18),
    (56.0, 26.17), (56.3, 26.18), (56.6, 26.17), (56.9, 26.18), (57.2, 26.17), (57.5, 26.18),
    (57.7, 26.16), (57.9, 26.2), (58.0, 26.1), (58.1, 26.22), (58.2, 26.05), (58.3, 26.18),
    (58.4, 26.24), (58.5, 26.12), (58.6, 26.2), (58.8, 26.14), (58.9, 26.2), (59.0, 26.0),
    (59.1, 26.18), (59.2, 25.98), (59.3, 26.2), (59.4, 26.1), (59.5, 26.15), (59.6, 26.2),
    (59.7, 26.08), (59.8, 26.18), (59.9, 26.12), (60.0, 26.2), (60.2, 26.07), (60.4, 26.21),
    (60.5, 26.05), (60.6, 26.22), (60.7, 26.07), (60.8, 26.18), (61.0, 26.2),
]
yom009_anom = [
    (2.4, 26.17), (2.6, 26.19), (2.5, 26.1), (2.7, 26.08), (2.8, 26.06), (2.9, 26.05), (3.0, 26.07),
    (3.1, 26.06), (3.2, 26.08), (3.3, 26.11), (3.4, 26.46), (3.45, 26.42), (3.4, 26.25), (3.5, 26.22),
    (3.6, 26.19), (3.7, 26.05), (3.8, 26.1), (3.9, 26.22), (4.0, 26.08), (4.1, 26.17), (4.3, 26.1),
    (4.4, 26.08), (4.5, 26.04), (4.6, 26.05), (4.7, 26.1), (4.8, 26.07), (5.0, 26.06), (5.1, 26.08),
    (5.2, 26.24), (5.3, 26.07), (5.4, 26.1), (5.0, 26.17), (6.5, 26.09), (8.3, 26.09), (10.3, 26.09),
    (11.5, 26.24), (11.55, 26.22), (11.6, 26.2), (13.35, 26.56), (13.35, 26.54), (13.4, 26.42),
    (13.35, 26.23), (13.4, 26.21), (18.8, 26.07), (18.8, 26.04), (18.85, 26.05), (19.0, 26.19),
    (20.45, 26.1), (20.5, 26.59), (20.5, 26.09), (20.55, 25.98), (20.6, 26.01), (20.65, 26.03),
    (20.7, 26.02), (21.1, 26.15), (22.45, 26.61), (22.45, 26.52), (22.5, 26.5), (22.5, 26.46),
    (22.55, 26.44), (22.6, 26.22), (22.5, 26.1), (23.4, 26.82), (23.4, 26.6), (23.45, 26.59),
    (23.4, 26.52), (23.45, 26.53), (23.5, 26.15), (23.5, 26.11), (23.6, 26.12), (23.7, 26.25),
    (23.8, 26.02), (23.9, 26.05), (24.1, 26.21), (24.3, 26.63), (24.3, 26.52), (24.35, 26.53),
    (24.4, 26.08), (24.5, 26.25), (24.9, 26.02), (25.0, 26.01), (25.3, 26.83), (25.3, 26.63),
    (25.35, 26.5), (25.35, 26.48), (25.4, 26.0), (25.5, 26.01), (25.7, 26.02), (25.8, 26.04),
    (26.0, 26.24), (26.1, 26.22), (26.2, 26.23), (26.8, 26.09), (27.0, 26.12), (27.3, 26.63),
    (27.3, 26.6), (27.3, 26.58), (27.35, 26.55), (27.35, 26.52), (27.75, 26.49), (28.2, 26.23),
    (28.45, 26.5), (28.5, 26.51), (28.9, 26.05), (30.3, 26.51), (30.35, 26.06), (31.45, 26.54),
    (31.6, 26.2), (31.9, 26.14), (32.6, 26.08), (32.7, 26.1), (32.8, 26.09), (33.6, 26.22),
    (33.7, 26.04), (33.75, 26.02), (33.75, 25.99), (34.3, 26.15), (35.4, 26.05), (35.5, 26.08),
    (35.5, 26.06), (36.2, 26.07), (36.3, 26.05), (36.3, 26.08), (36.28, 26.63), (36.4, 26.06),
    (39.8, 26.2), (39.9, 26.07), (40.0, 26.06), (40.1, 26.05), (40.15, 26.04), (44.0, 25.99),
    (44.1, 26.04), (44.15, 26.08), (45.2, 26.2), (45.4, 26.06), (45.5, 26.04), (45.6, 26.08),
    (45.7, 26.05), (45.9, 26.1), (46.1, 26.22), (46.0, 26.12), (46.2, 26.0), (46.3, 26.03),
    (46.4, 26.06), (46.6, 26.08), (46.7, 26.0), (46.8, 26.05), (47.0, 26.24), (47.1, 26.1),
    (47.2, 26.12), (47.3, 26.15), (47.4, 25.99), (47.5, 26.04), (47.7, 26.23), (47.8, 26.02),
    (47.9, 26.06), (48.1, 26.08), (48.2, 26.22), (48.4, 26.0), (48.3, 26.04), (48.5, 26.22),
    (48.6, 26.2), (48.7, 26.14), (49.4, 26.21), (50.4, 26.0), (50.5, 25.99), (50.6, 25.98),
    (50.7, 26.0), (57.9, 26.18), (58.0, 26.15), (58.1, 26.13), (58.2, 26.08), (58.3, 26.05),
    (58.4, 26.24), (58.5, 26.23), (58.6, 26.2), (58.8, 26.14), (59.0, 26.0), (59.1, 25.99),
    (59.2, 25.98), (59.3, 26.0), (59.4, 26.08), (59.5, 26.12), (59.8, 26.21), (60.0, 26.2),
    (60.5, 26.05), (60.6, 26.08), (60.7, 26.07), (60.8, 26.1), (60.9, 26.19),
]

# STYLE (everything is scaled down, as in the pasted subfigures)
LW = 1.0
plt.rcParams.update({
    "xtick.labelsize": 4.4, "ytick.labelsize": 4.4,
    "xtick.major.size": 1.6, "ytick.major.size": 1.6,
    "xtick.major.width": 0.4, "ytick.major.width": 0.4,
    "xtick.major.pad": 1.5, "ytick.major.pad": 1.5,
    "axes.linewidth": 0.5, "axes.edgecolor": "#555555",
    "legend.fontsize": 4.4,
})


def uniform(vals):
    return np.arange(len(vals)) * STEP, np.asarray(vals, dtype=float)


def pairs(pts):
    a = np.asarray(pts, dtype=float)
    return a[:, 0], a[:, 1]


def draw(ax, start, days, vals, anom, loc):
    t0 = pd.Timestamp(start)
    t = t0 + pd.to_timedelta(days, unit="D")
    tr = days < SPLIT[0]
    va = (days >= SPLIT[0]) & (days < SPLIT[1])
    te = days >= SPLIT[1]
    ax.plot(t[tr], vals[tr], color="tab:blue", lw=LW, label="Train")
    ax.plot(t[va], vals[va], color="tab:orange", lw=LW, label="Validation")
    ax.plot(t[te], vals[te], color="tab:green", lw=LW, label="Test")
    ad, av = pairs(anom)
    ax.scatter(t0 + pd.to_timedelta(ad, unit="D"), av, marker="x", s=11, linewidths=0.8,
               color="tab:red", alpha=0.65, label="Anomaly", zorder=3)
    ax.xaxis.set_major_locator(mdates.DayLocator(bymonthday=[1, 8, 15, 22]))
    ax.xaxis.set_major_formatter(mdates.DateFormatter("%Y-%m-%d"))
    leg = ax.legend(loc=loc, handlelength=2.0)
    leg.get_frame().set_linewidth(0.4)


W, H = 1134, 1117
fig = plt.figure(figsize=(W / 100, H / 100), dpi=100)

# (label, start, days, values, anomalies, legend loc, box L T R B in px, caption centre)
panels = [
    ("(a) CPY011", "2016-05-01", *uniform(cpy011), cpy011_anom, "upper right", (31, 8, 549, 178), (278, 216)),
    ("(b) CPY012", "2016-05-01", *uniform(cpy012), cpy012_anom, "upper left", (609, 7, 1130, 178), (858, 216)),
    ("(c) CPY013", "2016-05-01", *uniform(cpy013), cpy013_anom, "upper right", (29, 302, 548, 473), (278, 511)),
    ("(d) CPY014", "2015-05-01", *uniform(cpy014), cpy014_anom, "upper right", (604, 301, 1127, 473), (858, 511)),
    ("(e) CPY015", "2016-05-01", *uniform(cpy015), cpy015_anom, "upper right", (22, 594, 549, 768), (278, 806)),
    ("(f) CPY016", "2016-05-01", *pairs(cpy016), cpy016_anom, "upper left", (614, 598, 1128, 768), (858, 806)),
    ("(g) CPY017", "2016-05-01", *pairs(cpy017), cpy017_anom, "upper left", (29, 890, 549, 1062), (278, 1098)),
    ("(h) YOM009", "2015-05-01", *pairs(yom009), yom009_anom, "upper right", (608, 889, 1128, 1062), (858, 1098)),
]

for label, start, days, vals, anom, loc, (L, T, R, B), (cx, cy) in panels:
    ax = fig.add_axes([L / W, 1 - B / H, (R - L) / W, (B - T) / H])
    draw(ax, start, days, vals, anom, loc)
    fig.text(cx / W, 1 - cy / H, label, ha="center", va="center", fontsize=19, family="cmr10")

fig.savefig("out.png", dpi=100)
